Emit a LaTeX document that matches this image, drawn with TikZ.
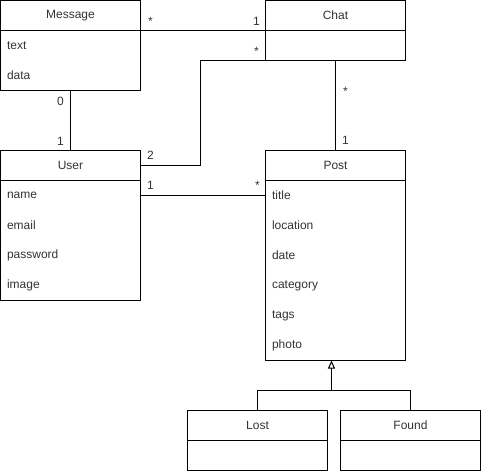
\documentclass[tikz,border=0pt]{standalone}
\usepackage{fontspec}
\setmainfont{Liberation Sans}
\usetikzlibrary{arrows.meta}
\usetikzlibrary{positioning}

\begin{document}
\begin{tikzpicture}[x=1pt, y=-1pt, line width=1pt,
    every node/.style={font=\fontsize{12}{14}\selectfont, text=black!80},
    head/.style={draw, outer sep=0pt, inner sep=0pt, minimum width=140pt, minimum height=30pt},
    body/.style={head, minimum height=#1},
    attr/.style={anchor=west, inner sep=6pt},
    mult/.style={anchor=base, inner sep=0pt}]
        \useasboundingbox (-0.5,-0.5) rectangle (480.5,471.5);

        \node[head] (message) at (70,15) {Message};
        \node[body=60pt, below=0pt of message] (messagebox) {};
        \node[attr] (text) at (0,45) {text};
        \node[attr] (data) at (0,75) {data};

        \node[head] (chat) at (335,15) {Chat};
        \node[body=30pt, below=0pt of chat] (chatbox) {};

        \node[head] (user) at (70,165) {User};
        \node[body=120pt, below=0pt of user] (userbox) {};
        \node[attr] (name) at (0,195) {name};
        \node[attr] (email) at (0,225) {email};
        \node[attr] (password) at (0,255) {password};
        \node[attr] (image) at (0,285) {image};

        \node[head] (post) at (335,165) {Post};
        \node[body=180pt, below=0pt of post] (postbox) {};
        \node[attr] (title) at (265,195) {title};
        \node[attr] (location) at (265,225) {location};
        \node[attr] (date) at (265,255) {date};
        \node[attr] (category) at (265,285) {category};
        \node[attr] (tags) at (265,315) {tags};
        \node[attr] (photo) at (265,345) {photo};

        \node[head] (lost) at (257,425) {Lost};
        \node[body=30pt, below=0pt of lost] (lostbox) {};
        \node[head] (found) at (410,425) {Found};
        \node[body=30pt, below=0pt of found] (foundbox) {};

        \coordinate (bend) at (200,60);
        \coordinate (gen) at (331,390);

        \draw (message.south east) -- (chat.south west);
        \draw (chatbox.south west) -- (bend) |- (user.east);
        \draw (messagebox.south) -- (user.north);
        \draw (chatbox.south) -- (post.north);
        \draw (userbox.east |- name) -- (postbox.west |- title);
        \draw (lost.north) |- (gen) -| (found.north);
        \draw[-{Triangle[open, width=7pt, length=8pt]}] (gen) -- (gen |- postbox.south);

        \node[mult] (m1) at (150,25) {*};
        \node[mult] (c1) at (256,25) {1};
        \node[mult] (c2) at (256,55) {*};
        \node[mult] (u2) at (150,159) {2};
        \node[mult] (m2) at (60,105) {0};
        \node[mult] (u1) at (60,145) {1};
        \node[mult] (c3) at (345,95) {*};
        \node[mult] (p1) at (345,144) {1};
        \node[mult] (u3) at (150,189) {1};
        \node[mult] (p2) at (257,189) {*};
    \end{tikzpicture}
\end{document}
